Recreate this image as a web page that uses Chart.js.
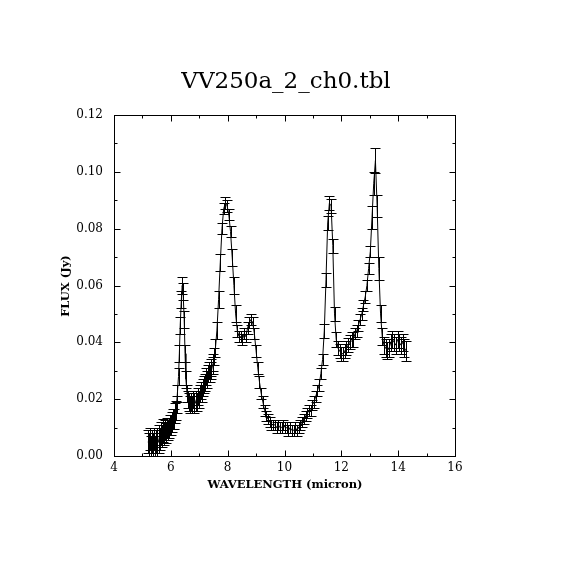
<!DOCTYPE html>
<html>
<head>
<meta charset="utf-8">
<script src="https://cdn.jsdelivr.net/npm/chart.js@4/dist/chart.umd.min.js"></script>
<style>
  html, body { margin: 0; padding: 0; background: #fff; }
  #wrap { width: 570px; height: 570px; }
</style>
</head>
<body>
<div id="wrap"><canvas id="chart" width="570" height="570"></canvas></div>
<script>
const titleText = 'VV250a_2_ch0.tbl';
const xTitle = 'WAVELENGTH (micron)';
const yTitle = 'FLUX (Jy)';

const xTicks = [4, 6, 8, 10, 12, 14, 16];
const xMinor = [5, 7, 9, 11, 13, 15];
const yTicks = [0, 0.02, 0.04, 0.06, 0.08, 0.10, 0.12];
const yMinor = [0.01, 0.03, 0.05, 0.07, 0.09, 0.11];

// wavelength (micron)
const wavelength = [
  5.20, 5.24, 5.27, 5.30, 5.33, 5.37, 5.40, 5.43, 5.47, 5.50, 5.53, 5.57,
  5.60, 5.63, 5.67, 5.70, 5.73, 5.77, 5.80, 5.83, 5.87, 5.90, 5.93, 5.97,
  6.00, 6.03, 6.07, 6.10, 6.13, 6.17, 6.20, 6.23, 6.27, 6.30, 6.33, 6.37,
  6.40, 6.43, 6.47, 6.50, 6.53, 6.57, 6.60, 6.63, 6.67, 6.70, 6.73, 6.77,
  6.80, 6.83, 6.87, 6.90, 6.93, 6.97, 7.00, 7.03, 7.07, 7.10, 7.13, 7.17,
  7.20, 7.23, 7.27, 7.30, 7.33, 7.37, 7.40, 7.43, 7.47, 7.50, 7.53, 7.57,
  7.62, 7.68, 7.74, 7.80, 7.86, 7.92, 7.98, 8.04, 8.10, 8.16, 8.22, 8.28,
  8.34, 8.40, 8.46, 8.52, 8.58, 8.64, 8.70, 8.76, 8.82, 8.88, 8.94, 9.00,
  9.06, 9.12, 9.18, 9.24, 9.30, 9.36, 9.42, 9.48, 9.54, 9.60, 9.66, 9.72,
  9.78, 9.84, 9.90, 9.96, 10.02, 10.08, 10.14, 10.20, 10.26, 10.32, 10.38, 10.44,
  10.50, 10.56, 10.62, 10.68, 10.74, 10.80, 10.86, 10.92, 10.98, 11.04, 11.10, 11.16,
  11.22, 11.28, 11.34, 11.40, 11.46, 11.52, 11.58, 11.64, 11.70, 11.76, 11.82, 11.88,
  11.94, 12.00, 12.06, 12.12, 12.18, 12.24, 12.30, 12.36, 12.42, 12.48, 12.54, 12.60,
  12.66, 12.72, 12.78, 12.84, 12.90, 12.96, 13.02, 13.08, 13.14, 13.20, 13.26, 13.32,
  13.38, 13.44, 13.50, 13.56, 13.62, 13.68, 13.74, 13.80, 13.86, 13.92, 13.98, 14.04,
  14.10, 14.16, 14.22, 14.28
];

// flux (Jy)
const flux = [
  0.005, 0.004, 0.006, 0.003, 0.005, 0.004, 0.006, 0.003, 0.005, 0.004, 0.006, 0.005,
  0.007, 0.006, 0.008, 0.007, 0.009, 0.008, 0.009, 0.008, 0.010, 0.009, 0.010, 0.011,
  0.011, 0.012, 0.013, 0.013, 0.015, 0.016, 0.018, 0.022, 0.028, 0.036, 0.046, 0.055,
  0.060, 0.058, 0.048, 0.036, 0.027, 0.022, 0.020, 0.019, 0.018, 0.019, 0.018, 0.020,
  0.019, 0.018, 0.019, 0.020, 0.019, 0.021, 0.020, 0.022, 0.023, 0.022, 0.024, 0.025,
  0.026, 0.028, 0.027, 0.029, 0.030, 0.029, 0.031, 0.030, 0.032, 0.033, 0.035, 0.038,
  0.044, 0.055, 0.068, 0.080, 0.087, 0.089, 0.088, 0.085, 0.079, 0.070, 0.060, 0.050,
  0.044, 0.042, 0.042, 0.041, 0.043, 0.042, 0.045, 0.047, 0.048, 0.047, 0.043, 0.037,
  0.031, 0.026, 0.022, 0.019, 0.016, 0.014, 0.013, 0.012, 0.011, 0.011, 0.011, 0.010,
  0.011, 0.010, 0.010, 0.011, 0.010, 0.010, 0.009, 0.010, 0.009, 0.009, 0.010, 0.009,
  0.010, 0.011, 0.012, 0.013, 0.014, 0.015, 0.016, 0.016, 0.018, 0.019, 0.021, 0.023,
  0.025, 0.029, 0.034, 0.044, 0.062, 0.082, 0.089, 0.088, 0.074, 0.050, 0.041, 0.038,
  0.037, 0.036, 0.036, 0.037, 0.038, 0.039, 0.040, 0.041, 0.041, 0.043, 0.044, 0.046,
  0.048, 0.050, 0.053, 0.056, 0.060, 0.066, 0.072, 0.084, 0.096, 0.104, 0.088, 0.066,
  0.050, 0.042, 0.039, 0.038, 0.037, 0.038, 0.040, 0.041, 0.040, 0.039, 0.041, 0.040,
  0.039, 0.040, 0.038, 0.037
];

// 1-sigma uncertainty (Jy)
const fluxErr = [
  0.004, 0.004, 0.004, 0.004, 0.004, 0.004, 0.004, 0.004, 0.004, 0.004, 0.004, 0.004,
  0.004, 0.004, 0.004, 0.004, 0.004, 0.004, 0.0035, 0.0035, 0.0035, 0.0035, 0.0035, 0.0035,
  0.0035, 0.0035, 0.0035, 0.0035, 0.0035, 0.0035, 0.003, 0.003, 0.003, 0.003, 0.003, 0.003,
  0.003, 0.003, 0.003, 0.003, 0.003, 0.003, 0.003, 0.003, 0.003, 0.003, 0.003, 0.003,
  0.003, 0.003, 0.003, 0.003, 0.003, 0.003, 0.003, 0.003, 0.003, 0.003, 0.003, 0.003,
  0.003, 0.003, 0.003, 0.003, 0.003, 0.003, 0.003, 0.003, 0.003, 0.003, 0.003, 0.003,
  0.003, 0.003, 0.003, 0.002, 0.002, 0.002, 0.002, 0.002, 0.002, 0.003, 0.003, 0.003,
  0.002, 0.002, 0.002, 0.002, 0.002, 0.002, 0.002, 0.002, 0.002, 0.002, 0.002, 0.002,
  0.002, 0.002, 0.002, 0.002, 0.002, 0.0018, 0.0018, 0.0018, 0.0018, 0.0018, 0.0018, 0.0018,
  0.0018, 0.0018, 0.0018, 0.0018, 0.0018, 0.0018, 0.0018, 0.0018, 0.0018, 0.0018, 0.0018, 0.0018,
  0.0018, 0.0018, 0.0018, 0.0018, 0.0018, 0.0018, 0.0018, 0.0018, 0.0018, 0.002, 0.002, 0.002,
  0.002, 0.002, 0.002, 0.0025, 0.0025, 0.0025, 0.0025, 0.0025, 0.0025, 0.0025, 0.0025, 0.0025,
  0.0025, 0.0025, 0.0025, 0.0025, 0.0025, 0.0025, 0.0025, 0.0025, 0.0025, 0.002, 0.002, 0.002,
  0.002, 0.002, 0.002, 0.002, 0.002, 0.002, 0.002, 0.004, 0.004, 0.0045, 0.004, 0.004,
  0.003, 0.003, 0.003, 0.003, 0.003, 0.003, 0.003, 0.003, 0.003, 0.003, 0.003, 0.003,
  0.003, 0.003, 0.003, 0.0035
];

const serif = '"DejaVu Serif", "Liberation Serif", serif';

// vertical error bars with caps, placed through the chart scales
const errorBars = {
  id: 'errorBars',
  afterDatasetsDraw(chart) {
    const { ctx, scales: { x, y } } = chart;
    const cap = 5;
    ctx.save();
    ctx.strokeStyle = '#000';
    ctx.lineWidth = 1;
    ctx.beginPath();
    wavelength.forEach((w, i) => {
      const px = Math.round(x.getPixelForValue(w)) + 0.5;
      const top = Math.round(y.getPixelForValue(flux[i] + fluxErr[i])) + 0.5;
      const bot = Math.round(y.getPixelForValue(Math.max(flux[i] - fluxErr[i], 0))) + 0.5;
      ctx.moveTo(px, top);
      ctx.lineTo(px, bot);
      ctx.moveTo(px - cap, top);
      ctx.lineTo(px + cap, top);
      ctx.moveTo(px - cap, bot);
      ctx.lineTo(px + cap, bot);
    });
    ctx.stroke();
    ctx.restore();
  },
};

// box, inward ticks and titles
const frame = {
  id: 'frame',
  afterDraw(chart) {
    const { ctx, chartArea: a, scales: { x, y } } = chart;
    ctx.save();
    ctx.strokeStyle = '#000';
    ctx.lineWidth = 1;
    const l = Math.round(a.left) + 0.5;
    const r = Math.round(a.right) + 0.5;
    const t = Math.round(a.top) + 0.5;
    const b = Math.round(a.bottom) + 0.5;
    ctx.strokeRect(l, t, r - l, b - t);
    ctx.beginPath();
    const xTick = (v, len) => {
      const p = Math.round(x.getPixelForValue(v)) + 0.5;
      ctx.moveTo(p, b); ctx.lineTo(p, b - len);
      ctx.moveTo(p, t); ctx.lineTo(p, t + len);
    };
    const yTick = (v, len) => {
      const p = Math.round(y.getPixelForValue(v)) + 0.5;
      ctx.moveTo(l, p); ctx.lineTo(l + len, p);
      ctx.moveTo(r, p); ctx.lineTo(r - len, p);
    };
    xTicks.forEach((v) => xTick(v, 6));
    xMinor.forEach((v) => xTick(v, 3));
    yTicks.forEach((v) => yTick(v, 6));
    yMinor.forEach((v) => yTick(v, 3));
    ctx.stroke();

    ctx.fillStyle = '#000';
    ctx.textAlign = 'center';
    ctx.textBaseline = 'middle';
    ctx.font = `23px ${serif}`;
    ctx.fillText(titleText, 286, 82);
    ctx.font = `bold 11.5px ${serif}`;
    ctx.fillText(xTitle, (l + r) / 2, 485);
    ctx.translate(66, (t + b) / 2);
    ctx.rotate(-Math.PI / 2);
    ctx.fillText(yTitle, 0, 0);
    ctx.restore();
  },
};

const ctx = document.getElementById('chart');

new Chart(ctx, {
  type: 'line',
  data: {
    datasets: [
      {
        data: wavelength.map((w, i) => ({ x: w, y: flux[i] })),
        borderColor: '#000',
        borderWidth: 1,
        pointRadius: 0,
        tension: 0,
        fill: false,
      },
    ],
  },
  options: {
    responsive: false,
    animation: false,
    devicePixelRatio: 1,
    layout: { padding: { top: 115, right: 115, left: 0, bottom: 0 } },
    plugins: {
      legend: { display: false },
      tooltip: { enabled: false },
    },
    scales: {
      x: {
        type: 'linear',
        min: 4,
        max: 16,
        grid: { display: false, drawTicks: false },
        border: { display: false },
        afterBuildTicks: (scale) => {
          scale.ticks = xTicks.map((v) => ({ value: v }));
        },
        afterFit: (scale) => {
          scale.height = 114;
        },
        ticks: {
          color: '#000',
          padding: 5,
          maxRotation: 0,
          font: { family: serif, size: 12 },
          callback: (v) => String(v),
        },
      },
      y: {
        type: 'linear',
        min: 0,
        max: 0.12,
        grid: { display: false, drawTicks: false },
        border: { display: false },
        afterBuildTicks: (scale) => {
          scale.ticks = yTicks.map((v) => ({ value: v }));
        },
        afterFit: (scale) => {
          scale.width = 114;
        },
        ticks: {
          color: '#000',
          padding: 11,
          font: { family: serif, size: 12 },
          callback: (v) => Number(v).toFixed(2),
        },
      },
    },
  },
  plugins: [errorBars, frame],
});
</script>
</body>
</html>
